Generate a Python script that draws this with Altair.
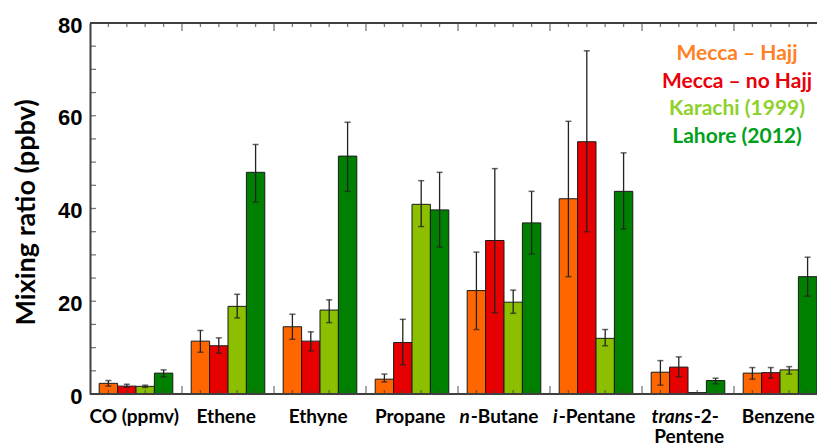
import altair as alt
import pandas as pd

compounds = ["CO (ppmv)", "Ethene", "Ethyne", "Propane", "n-Butane",
             "i-Pentane", "trans-2-Pentene", "Benzene"]
series = ["Mecca – Hajj", "Mecca – no Hajj", "Karachi (1999)", "Lahore (2012)"]

hajj = [2.3, 11.4, 14.5, 3.2, 22.3, 42.1, 4.7, 4.5]
hajj_lo = [1.7, 9.0, 11.8, 2.6, 13.9, 25.3, 1.9, 3.2]
hajj_hi = [2.9, 13.7, 17.2, 4.3, 30.6, 58.8, 7.2, 5.7]

nohajj = [1.7, 10.4, 11.4, 11.1, 33.1, 54.4, 5.8, 4.6]
nohajj_lo = [1.45, 8.8, 9.3, 6.3, 17.5, 35.0, 3.7, 3.4]
nohajj_hi = [2.1, 12.1, 13.4, 16.1, 48.6, 74.0, 8.0, 5.7]

karachi = [1.65, 18.9, 18.1, 40.9, 19.8, 12.0, 0.3, 5.2]
karachi_lo = [1.4, 16.4, 15.4, 36.1, 17.4, 10.4, None, 4.3]
karachi_hi = [1.9, 21.5, 20.3, 46.0, 22.4, 13.9, None, 5.9]

lahore = [4.5, 47.8, 51.3, 39.7, 36.9, 43.7, 2.9, 25.3]
lahore_lo = [3.7, 41.4, 43.7, 31.7, 30.2, 35.6, 2.2, 21.1]
lahore_hi = [5.2, 53.8, 58.6, 47.8, 43.7, 52.0, 3.4, 29.5]

y_ticks = [0, 20, 40, 60, 80]

bar_colors = ["#FF6600", "#E60000", "#8CBF00", "#008000"]
legend_colors = ["#FF7F24", "#E8000B", "#8ED12A", "#00A01A"]

values = [hajj, nohajj, karachi, lahore]
los = [hajj_lo, nohajj_lo, karachi_lo, lahore_lo]
his = [hajj_hi, nohajj_hi, karachi_hi, lahore_hi]

rows = []
for si, s in enumerate(series):
    for ci, c in enumerate(compounds):
        rows.append({"compound": c, "series": s, "value": values[si][ci],
                     "lo": los[si][ci], "hi": his[si][ci]})
df = pd.DataFrame(rows)
err = df.dropna(subset=["lo", "hi"])
caps = pd.concat([
    err[["compound", "series", "lo"]].rename(columns={"lo": "v"}),
    err[["compound", "series", "hi"]].rename(columns={"hi": "v"}),
])

slots = series + ["gap"]
tick_rows = pd.DataFrame([{"compound": c, "series": s} for c in compounds for s in slots])
short_ticks = tick_rows[tick_rows.series != "gap"]
long_ticks = tick_rows[tick_rows.series == "gap"]

X = alt.X("compound:N", scale=alt.Scale(domain=compounds, paddingInner=0,
                                        paddingOuter=0.1, range=[0, 754.4]),
          axis=None)
XO = alt.XOffset("series:N", scale=alt.Scale(domain=slots, paddingInner=0, paddingOuter=0))
ysc = alt.Scale(domain=[0, 80], nice=False, zero=True)

yaxis = alt.Axis(values=y_ticks, ticks=False, labelPadding=8, labelFont="Liberation Sans",
                 labelFontSize=22, labelFontWeight="bold", labelColor="black",
                 labelOffset=2, domain=True, domainColor="#404040", domainWidth=2,
                 grid=False, title="Mixing ratio (ppbv)", titleFont="Lato",
                 titleFontSize=27, titleFontWeight="bold", titleColor="black",
                 titleX=-64, titleY=189, titleAngle=270, titleBaseline="middle",
                 titleAlign="center")

bars = alt.Chart(df).mark_bar(stroke="#1a1a1a", strokeWidth=1, opacity=1).encode(
    x=X, xOffset=XO,
    y=alt.Y("value:Q", scale=ysc, axis=yaxis),
    color=alt.Color("series:N", scale=alt.Scale(domain=series, range=bar_colors), legend=None),
)

rules = alt.Chart(err).mark_rule(color="#222222", strokeWidth=1.3).encode(
    x=X, xOffset=XO, y="lo:Q", y2="hi:Q")
capm = alt.Chart(caps).mark_tick(orient="horizontal", size=6, thickness=1.5,
                                 color="#222222").encode(x=X, xOffset=XO, y="v:Q")

frame = alt.Chart(pd.DataFrame({"v": [0, 80]})).mark_rule(
    color="#404040", strokeWidth=2).encode(y="v:Q")
left_ticks = alt.Chart(pd.DataFrame({"v": list(range(5, 80, 5))})).mark_tick(
    orient="horizontal", size=6, thickness=1.3, color="#404040", xOffset=3).encode(
    y="v:Q", x=alt.value(0))

def frame_ticks(data, ydat, size, off):
    return alt.Chart(data).mark_tick(orient="vertical", size=size, thickness=1.3,
                                     color="#404040", yOffset=off).encode(
        x=X, xOffset=XO, y=alt.datum(ydat))

ft = [frame_ticks(short_ticks, 0, 4, -2), frame_ticks(long_ticks, 0, 8, -4),
      frame_ticks(short_ticks, 80, 4, 2), frame_ticks(long_ticks, 80, 8, 4)]

lab_font = dict(font="Lato", fontSize=19, fontWeight="bold", color="black",
                baseline="alphabetic")
plain = ["CO (ppmv)", "Ethene", "Ethyne", "Propane", "Benzene"]
plain_lab = alt.Chart(pd.DataFrame({"compound": plain, "t": plain})).mark_text(
    align="center", dx=-11, dy=29, **lab_font).encode(x=X, y=alt.datum(0), text="t:N")

# (compound, italic part, regular part, split offset)
mixed = [("n-Butane", "n", "-Butane", -43),
         ("i-Pentane", "i", "-Pentane", -47),
         ("trans-2-Pentene", "trans", "-2-", -4)]
mixed_layers = []
for c, it, rg, off in mixed:
    d = pd.DataFrame({"compound": [c], "it": [it], "rg": [rg]})
    mixed_layers.append(alt.Chart(d).mark_text(align="right", dx=off - 0.5, dy=29,
                                               fontStyle="italic", **lab_font).encode(
        x=X, y=alt.datum(0), text="it:N"))
    mixed_layers.append(alt.Chart(d).mark_text(align="left", dx=off + 0.5, dy=29,
                                               **lab_font).encode(
        x=X, y=alt.datum(0), text="rg:N"))
second = alt.Chart(pd.DataFrame({"compound": ["trans-2-Pentene"], "t": ["Pentene"]})).mark_text(
    align="center", dx=-8, dy=49, **lab_font).encode(x=X, y=alt.datum(0), text="t:N")

legend_layers = []
for i, s in enumerate(series):
    legend_layers.append(alt.Chart(pd.DataFrame({"t": [s]})).mark_text(
        font="Lato", fontSize=21, fontWeight="bold", color=legend_colors[i],
        align="center", baseline="alphabetic").encode(
        x=alt.value(647), y=alt.value(37 + 27.7 * i), text="t:N"))

chart = alt.layer(bars, rules, capm, frame, left_ticks, *ft, plain_lab, *mixed_layers,
                  second, *legend_layers).properties(
    width=727, height=371,
    autosize=alt.AutoSizeParams(type="none"),
    padding={"left": 82, "top": 15, "right": 0, "bottom": 52},
).configure_view(stroke=None).configure(background="white")

chart.save("out.html", embed_options={"renderer": "svg", "actions": False})
